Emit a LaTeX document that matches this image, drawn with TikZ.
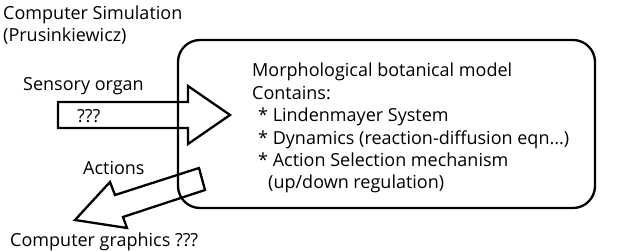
\documentclass[tikz,border=0pt]{standalone}
\usepackage{fontspec}
\setmainfont{Open Sans}
\begin{document}
\begin{tikzpicture}[x=1pt,y=-1pt,line join=miter,
    txt/.style={anchor=base west,inner sep=0pt,align=left,font=\fontsize{18}{22.4}\selectfont},
    outline/.style={line width=2.3pt}]
        \useasboundingbox (0,0) rectangle (627,251);
        % model box
            \draw[outline,rounded corners=22pt] (178,40) rectangle (595,208);
            \node[txt] (model) at (252,189) {Morphological botanical model\\
                Contains:\\
                \hspace{6pt}* Lindenmayer System\\
                \hspace{6pt}* Dynamics (reaction-diffusion eqn...)\\
                \hspace{6pt}* Action Selection mechanism\\
                \hspace{16pt}(up/down regulation)};
        % arrows
            \draw[outline] (58,102) -- (188,102) -- (188,86) -- (230,115)
                -- (188,144) -- (188,128) -- (58,128) -- cycle;
            \draw[outline] (199,168) -- (115,195) -- (110,182) -- (75,220)
                -- (127,228) -- (123,217) -- (205,190) -- cycle;
        % labels
            \node[txt] (sim) at (3,42) {Computer Simulation\\(Prusinkiewicz)};
            \node[txt] (sensor) at (23,91) {Sensory organ};
            \node[txt] (unknown) at (77,123) {???};
            \node[txt] (actions) at (83,175) {Actions};
            \node[txt] (graphics) at (10,246) {Computer graphics ???};
\end{tikzpicture}
\end{document}
